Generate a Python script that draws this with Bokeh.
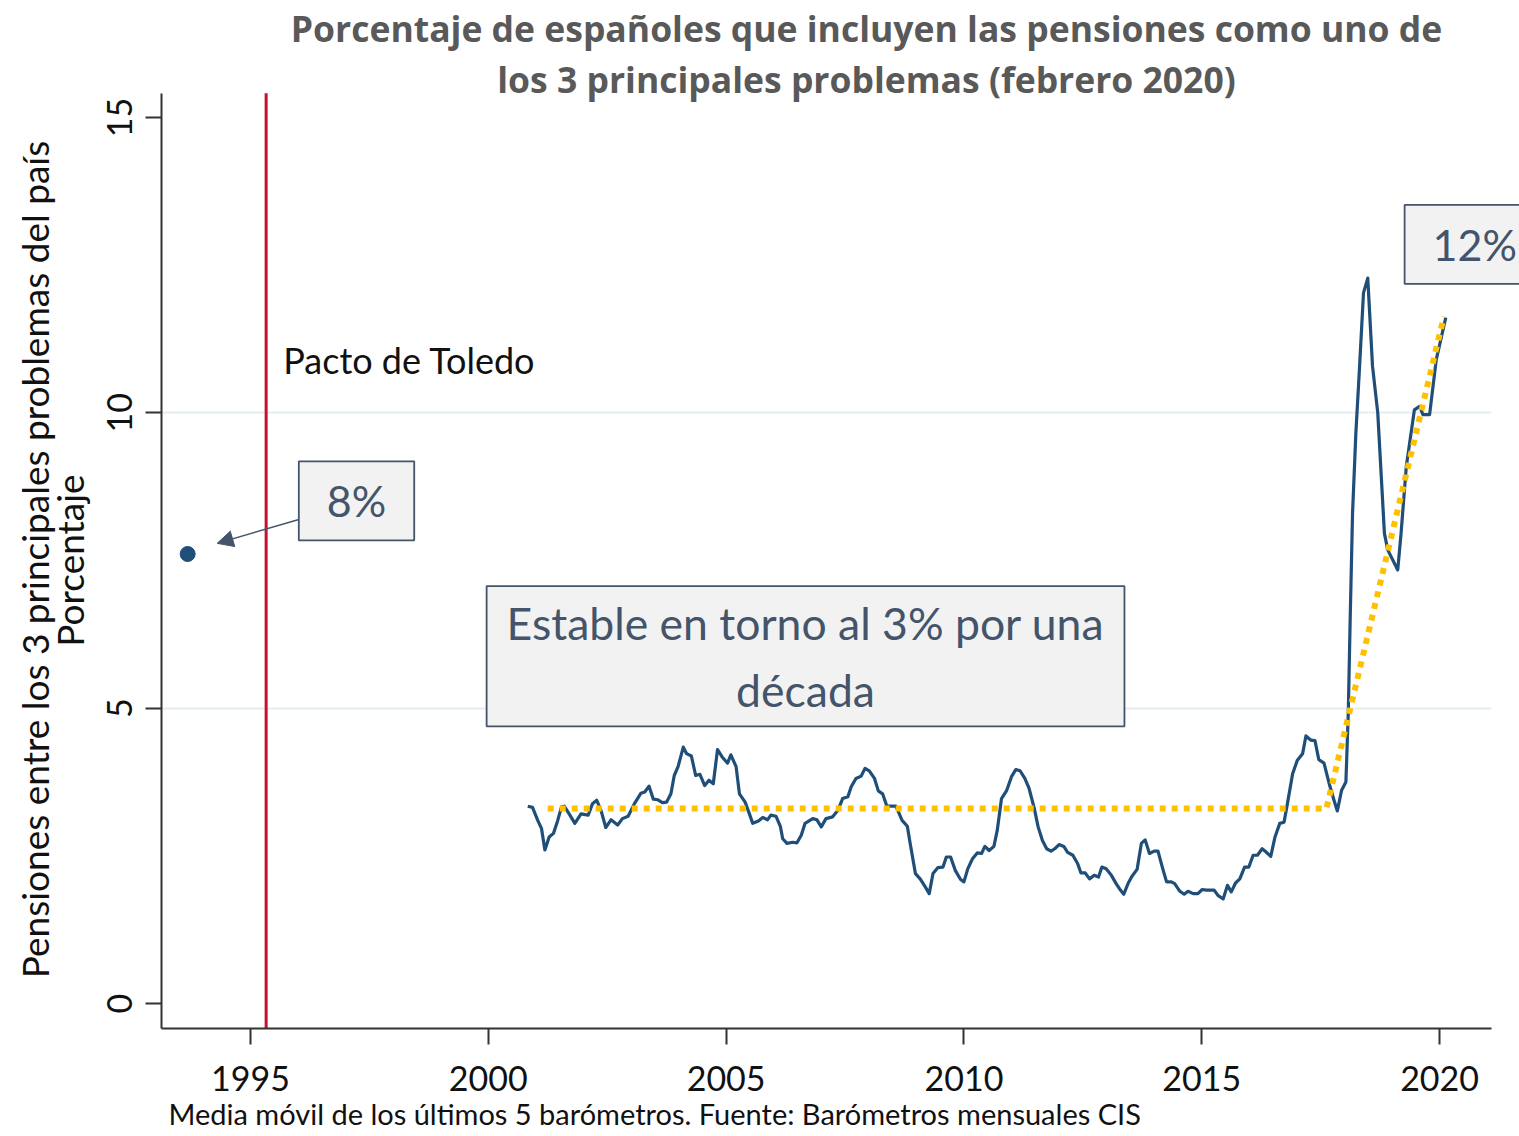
import math
from bokeh.plotting import figure
from bokeh.layouts import row
from bokeh.models import (Range1d, Label, Arrow, NormalHead, FixedTicker,
                          ColumnDataSource, Title)
from bokeh.embed import file_html
from bokeh.resources import INLINE

# ---------------- data ----------------
years = [2000.83, 2000.93, 2001.04, 2001.12, 2001.19, 2001.28, 2001.37, 2001.46, 2001.54, 2001.60,
         2001.70, 2001.82, 2001.95, 2002.10, 2002.19, 2002.28, 2002.37, 2002.47, 2002.58, 2002.72,
         2002.82, 2002.94, 2003.07, 2003.21, 2003.29, 2003.38, 2003.47, 2003.56, 2003.66, 2003.75,
         2003.84, 2003.91, 2003.99, 2004.10, 2004.17, 2004.27, 2004.36, 2004.45, 2004.55, 2004.64,
         2004.73, 2004.82, 2004.92, 2005.03, 2005.10, 2005.21, 2005.28, 2005.40, 2005.49, 2005.56,
         2005.68, 2005.77, 2005.87, 2005.94, 2006.05, 2006.14, 2006.19, 2006.28, 2006.40, 2006.49,
         2006.58, 2006.66, 2006.82, 2006.91, 2007.00, 2007.10, 2007.24, 2007.35, 2007.45, 2007.56,
         2007.63, 2007.73, 2007.84, 2007.92, 2008.01, 2008.12, 2008.20, 2008.29, 2008.38, 2008.57,
         2008.70, 2008.81, 2008.87, 2008.98, 2009.08, 2009.19, 2009.27, 2009.35, 2009.45, 2009.56,
         2009.63, 2009.72, 2009.82, 2009.93, 2010.00, 2010.08, 2010.18, 2010.28, 2010.37, 2010.44,
         2010.53, 2010.63, 2010.70, 2010.79, 2010.90, 2011.00, 2011.09, 2011.18, 2011.28, 2011.37,
         2011.48, 2011.56, 2011.65, 2011.74, 2011.83, 2011.91, 2012.00, 2012.10, 2012.18, 2012.29,
         2012.39, 2012.46, 2012.55, 2012.64, 2012.74, 2012.83, 2012.90, 2012.99, 2013.10, 2013.20,
         2013.29, 2013.36, 2013.45, 2013.53, 2013.64, 2013.73, 2013.81, 2013.90, 2014.00, 2014.08,
         2014.17, 2014.26, 2014.36, 2014.43, 2014.54, 2014.63, 2014.71, 2014.82, 2014.92, 2015.01,
         2015.10, 2015.26, 2015.34, 2015.45, 2015.54, 2015.62, 2015.71, 2015.80, 2015.90, 2015.99,
         2016.08, 2016.17, 2016.27, 2016.36, 2016.45, 2016.54, 2016.64, 2016.73, 2016.80, 2016.91,
         2017.01, 2017.12, 2017.19, 2017.29, 2017.38, 2017.46, 2017.57, 2017.69, 2017.78, 2017.85,
         2017.94, 2018.03, 2018.08, 2018.12, 2018.17, 2018.24, 2018.31, 2018.40, 2018.49, 2018.59,
         2018.70, 2018.84, 2018.91, 2019.12, 2019.19, 2019.30, 2019.47, 2019.58, 2019.65, 2019.79,
         2019.93, 2020.13]
values = [3.34, 3.32, 3.10, 2.96, 2.60, 2.82, 2.88, 3.10, 3.33, 3.34,
          3.21, 3.05, 3.21, 3.19, 3.38, 3.44, 3.27, 2.98, 3.11, 3.02,
          3.13, 3.17, 3.38, 3.56, 3.58, 3.68, 3.46, 3.45, 3.40, 3.41,
          3.55, 3.86, 4.01, 4.34, 4.23, 4.19, 3.86, 3.88, 3.69, 3.78,
          3.72, 4.30, 4.17, 4.07, 4.21, 4.01, 3.55, 3.41, 3.21, 3.05,
          3.09, 3.15, 3.11, 3.19, 3.17, 3.00, 2.79, 2.71, 2.73, 2.72,
          2.85, 3.05, 3.13, 3.11, 2.99, 3.13, 3.16, 3.27, 3.47, 3.50,
          3.67, 3.81, 3.85, 3.98, 3.94, 3.81, 3.60, 3.55, 3.34, 3.34,
          3.10, 3.00, 2.71, 2.20, 2.11, 1.97, 1.86, 2.20, 2.30, 2.31,
          2.48, 2.48, 2.25, 2.10, 2.06, 2.28, 2.45, 2.55, 2.54, 2.66,
          2.59, 2.66, 2.93, 3.47, 3.61, 3.84, 3.96, 3.94, 3.81, 3.64,
          3.30, 2.99, 2.76, 2.62, 2.58, 2.62, 2.69, 2.66, 2.56, 2.51,
          2.37, 2.21, 2.21, 2.11, 2.17, 2.14, 2.31, 2.28, 2.17, 2.03,
          1.92, 1.85, 2.03, 2.15, 2.27, 2.71, 2.77, 2.54, 2.58, 2.58,
          2.31, 2.06, 2.06, 2.03, 1.90, 1.85, 1.90, 1.86, 1.86, 1.93,
          1.92, 1.92, 1.83, 1.77, 2.00, 1.89, 2.04, 2.11, 2.31, 2.31,
          2.51, 2.51, 2.62, 2.56, 2.49, 2.82, 3.05, 3.07, 3.38, 3.89,
          4.12, 4.23, 4.53, 4.46, 4.45, 4.13, 4.07, 3.69, 3.44, 3.26,
          3.61, 3.75, 4.90, 6.50, 8.30, 9.66, 10.67, 12.03, 12.28, 10.79,
          10.00, 7.96, 7.68, 7.34, 7.96, 9.09, 10.05, 10.11, 9.97, 9.97,
          10.90, 11.61]

early_year = [1993.68]
early_value = [7.61]

trend_years = [2001.25, 2017.62, 2020.09]
trend_values = [3.30, 3.30, 11.63]

pacto_year = 1995.33

x_ticks = [1995, 2000, 2005, 2010, 2015, 2020]
y_ticks = [0, 5, 10, 15]
grid_ticks = [5, 10]

# axis extents (data units)
x_min, x_axis_max, x_view_max = 1993.13, 2021.09, 2021.68
y_min, y_axis_max, y_view_max = -0.423, 15.41, 16.98

title_line_1 = "Porcentaje de españoles que incluyen las pensiones como uno de"
title_line_2 = "los 3 principales problemas (febrero 2020)"
y_label_1 = "Pensiones entre los 3 principales problemas del país"
y_label_2 = "Porcentaje"
note = "Media móvil de los últimos 5 barómetros. Fuente: Barómetros mensuales CIS"

# ---------------- styling ----------------
FONT = "Lato"
NAVY = "#1F4E79"
SLATE = "#44546A"
GOLD = "#FFC000"
RED = "#C8102E"
INK = "#111111"
H = 1136
LABEL_W = 92

# ---- narrow strip that carries the two-line y-axis title ----
lab = figure(width=LABEL_W, height=H, frame_width=LABEL_W, frame_height=H,
             min_border=0, x_axis_type=None, y_axis_type=None,
             x_range=Range1d(0, 1), y_range=Range1d(0, 1),
             output_backend="svg", toolbar_location=None)
lab.outline_line_color = None
lab.grid.visible = False
ylab_style = dict(x_units="screen", y_units="screen", angle=math.pi / 2, text_font=FONT,
                  text_font_size="37px", text_color=INK, text_align="center",
                  text_baseline="middle")
lab.add_layout(Label(x=34, y=577, text=y_label_1, **ylab_style))
lab.add_layout(Label(x=68.5, y=576, text=y_label_2, **ylab_style))

# ---- main chart ----
p = figure(
    width=1519 - LABEL_W, height=H,
    frame_width=1358, frame_height=1028,
    min_border_left=161 - LABEL_W, min_border_right=0, min_border_top=0, min_border_bottom=108,
    x_range=Range1d(x_min, x_view_max), y_range=Range1d(y_min, y_view_max),
    output_backend="svg", toolbar_location=None,
)
p.outline_line_color = None
p.background_fill_color = "white"
p.border_fill_color = "white"

for ax in (p.xaxis[0], p.yaxis[0]):
    ax.axis_line_color = "#333333"
    ax.axis_line_width = 2
    ax.major_tick_line_color = "#333333"
    ax.major_tick_line_width = 2
    ax.major_tick_out = 16
    ax.major_tick_in = 0
    ax.minor_tick_line_color = None
    ax.major_label_text_font = FONT
    ax.major_label_text_font_size = "34px"
    ax.major_label_text_color = INK

p.xaxis[0].ticker = FixedTicker(ticks=x_ticks)
p.xaxis[0].bounds = (x_min, x_axis_max)
p.xaxis[0].major_label_standoff = 21

p.yaxis[0].ticker = FixedTicker(ticks=y_ticks)
p.yaxis[0].bounds = (y_min, y_axis_max)
p.yaxis[0].major_label_standoff = 13
p.yaxis[0].major_label_orientation = "vertical"

p.xgrid.visible = False
p.ygrid[0].ticker = FixedTicker(ticks=grid_ticks)
p.ygrid[0].grid_line_color = "#E4EDF0"
p.ygrid[0].grid_line_width = 2
p.ygrid[0].cross_bounds = (x_min, x_axis_max)

# note below the plot
p.add_layout(Title(text=note, align="left", offset=7, standoff=0, text_font=FONT,
                   text_font_size="29px", text_font_style="normal", text_color=INK), "below")

# Pacto de Toledo line
p.segment(x0=[pacto_year], y0=[y_min], x1=[pacto_year], y1=[y_axis_max],
          line_color=RED, line_width=3)

# series
src = ColumnDataSource(dict(x=years, y=values))
p.line("x", "y", source=src, line_color=NAVY, line_width=3.2, line_join="round")
p.line(trend_years, trend_values, line_color=GOLD, line_width=6, line_dash="6 6")
p.scatter(early_year, early_value, size=15, marker="circle", fill_color=NAVY, line_color=NAVY)

# annotations
p.add_layout(Label(x=pacto_year + 0.36, y=10.9, text="Pacto de Toledo", text_font=FONT,
                   text_font_size="36px", text_color=INK,
                   text_align="left", text_baseline="middle"))

box_style = dict(text_font=FONT, text_color=SLATE, background_fill_color="#F2F2F2",
                 border_line_color=SLATE, border_line_width=1.8,
                 text_align="center", text_baseline="middle")

p.add_layout(Label(x=1997.23, y=8.51, text="8%", text_font_size="43px",
                   padding=(28, 14), **box_style))
p.add_layout(Arrow(end=NormalHead(size=16, fill_color=SLATE, line_color=SLATE),
                   x_start=1996.0, y_start=8.19, x_end=1994.3, y_end=7.79,
                   line_color=SLATE, line_width=1.5))
p.add_layout(Label(x=2006.67, y=5.88, text="Estable en torno al 3% por una\ndécada",
                   text_font_size="44.5px", text_line_height=1.27,
                   padding=(20, 10), **box_style))
p.add_layout(Label(x=2020.74, y=12.85, text="12%", text_font_size="43px",
                   padding=(28, 14), **box_style))

# title (screen units relative to the frame)
title_style = dict(x_units="screen", y_units="screen", text_font="Open Sans",
                   text_font_style="bold", text_font_size="35.5px", text_color="#595959",
                   text_align="center", text_baseline="middle")
p.add_layout(Label(x=705, y=1001, text=title_line_1, **title_style))
p.add_layout(Label(x=705, y=950, text=title_line_2, **title_style))

layout = row(lab, p, spacing=0)
open("out.html", "w").write(file_html(layout, INLINE))
